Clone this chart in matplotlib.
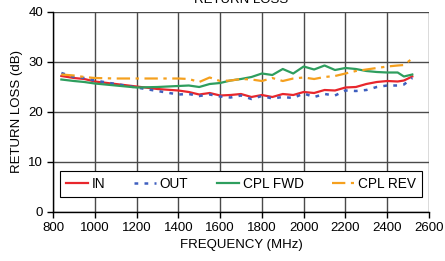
import matplotlib
matplotlib.use("Agg")
import matplotlib.pyplot as plt

plt.rcParams['font.family'] = ['Liberation Sans', 'DejaVu Sans']

freq = [840, 900, 950, 1000, 1100, 1200, 1300, 1400, 1450, 1500, 1550, 1600, 1650, 1700, 1750, 1800,
        1850, 1900, 1950, 2000, 2050, 2100, 2150, 2200, 2250, 2300, 2350, 2400, 2450, 2480, 2520]
rl_in = [27.2, 26.8, 26.6, 26.1, 25.6, 25.1, 24.6, 24.3, 24.0, 23.5, 23.8, 23.3, 23.4, 23.6, 23.0, 23.4,
         23.0, 23.6, 23.4, 24.0, 23.8, 24.4, 24.3, 24.9, 25.0, 25.6, 26.0, 26.2, 26.1, 26.3, 27.1]
rl_out = [27.8, 27.0, 26.8, 26.3, 25.6, 24.9, 24.2, 23.5, 23.6, 23.2, 23.5, 23.1, 22.9, 23.3, 22.6, 23.2,
          22.7, 23.0, 22.8, 23.7, 23.0, 23.6, 23.3, 24.3, 24.2, 24.4, 25.0, 25.3, 25.3, 25.5, 26.8]
cpl_fwd = [26.5, 26.2, 26.0, 25.7, 25.3, 24.9, 25.0, 25.2, 25.3, 25.0, 25.6, 25.8, 26.3, 26.6, 27.0, 27.7,
           27.4, 28.6, 27.7, 29.1, 28.5, 29.3, 28.4, 28.8, 28.6, 28.2, 28.0, 27.9, 27.9, 27.1, 27.5]
cpl_rev = [27.5, 27.3, 27.0, 26.8, 26.7, 26.7, 26.7, 26.7, 26.6, 26.0, 26.9, 26.2, 26.3, 26.6, 26.5, 26.2,
           26.8, 26.2, 26.7, 26.9, 26.6, 27.0, 27.2, 27.7, 28.2, 28.5, 28.8, 29.1, 29.3, 29.4, 30.7]

xticks = [800, 1000, 1200, 1400, 1600, 1800, 2000, 2200, 2400, 2600]
yticks = [0, 10, 20, 30, 40]

fig = plt.figure(figsize=(4.45, 2.61), dpi=100)
ax = fig.add_axes([53/445, 1 - 212/261, (429 - 53)/445, (212 - 12)/261])

ax.plot(freq, rl_in, color='#e8262c', lw=1.6, label='IN')
ax.plot(freq, rl_out, color='#3f5fbf', lw=1.8, linestyle=(0, (1.5, 2.5)), label='OUT')
ax.plot(freq, cpl_fwd, color='#2e9e5e', lw=1.6, label='CPL FWD')
ax.plot(freq, cpl_rev, color='#f5a01e', lw=1.6, linestyle=(0, (6, 2.5, 1.5, 2.5)), label='CPL REV')

ax.set_xlim(800, 2600)
ax.set_ylim(0, 40)
ax.set_xticks(xticks)
ax.set_yticks(yticks)
ax.grid(True, color='#4a4a4a', lw=1.0)
ax.set_axisbelow(True)
for s in ['top', 'right']:
    ax.spines[s].set_visible(False)
for s in ['left', 'bottom']:
    ax.spines[s].set_color('black')
    ax.spines[s].set_linewidth(1.0)
ax.tick_params(direction='out', length=4, width=1, labelsize=9.5, colors='black', pad=3)

ax.set_xlabel('FREQUENCY (MHz)', fontsize=9.5, labelpad=4)
ax.set_ylabel('RETURN LOSS (dB)', fontsize=9.5, labelpad=4)
fig.text((53 + 429) / 2 / 445, 1 - 0/261, 'RETURN LOSS', ha='center', va='center', fontsize=9.5)

leg = ax.legend(loc='lower center', bbox_to_anchor=(0.5, 0.075), ncol=4, fontsize=9.8,
                frameon=True, fancybox=False, edgecolor='black', framealpha=1,
                handlelength=1.6, handletextpad=0.3, columnspacing=2.1, borderpad=0.45,
                borderaxespad=0)
leg.get_frame().set_linewidth(0.8)

fig.savefig('out.png', dpi=100)
